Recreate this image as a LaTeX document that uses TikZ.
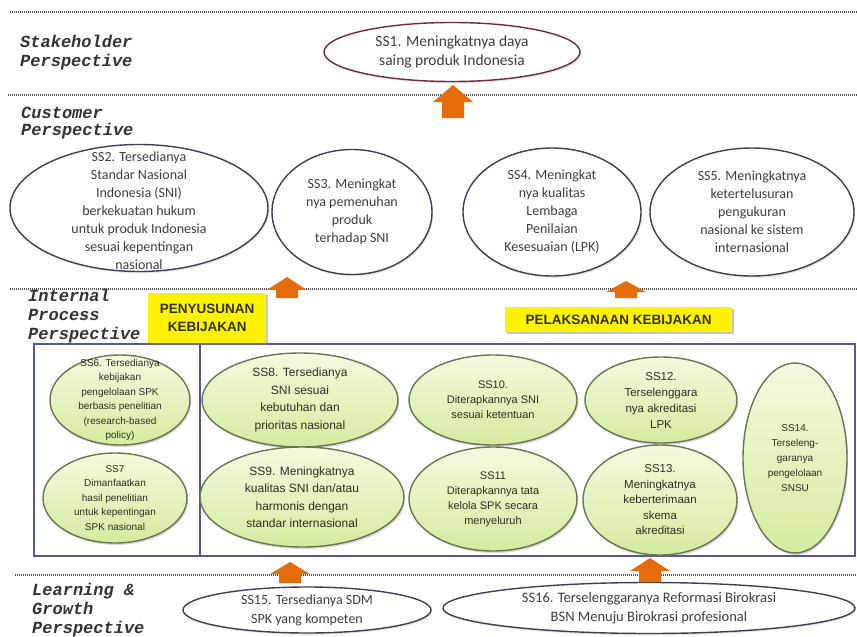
\documentclass[tikz,border=0pt]{standalone}
\usepackage{fontspec}
\setmainfont{Carlito}
\newfontfamily\arialf{Liberation Sans}
\newfontfamily\monof{Liberation Mono}
\usetikzlibrary{shapes.geometric,shadows}

\definecolor{ssborder}{RGB}{62,64,82}
\definecolor{ssoneborder}{RGB}{115,40,70}
\definecolor{grnborder}{RGB}{105,118,80}
\definecolor{grntop}{RGB}{244,250,222}
\definecolor{grnbot}{RGB}{214,234,160}
\definecolor{boxblue}{RGB}{85,85,165}
\definecolor{arrorange}{RGB}{228,108,10}
\definecolor{txtgray}{RGB}{62,62,62}
\definecolor{grntxt}{RGB}{40,50,30}
\definecolor{dotgray}{RGB}{80,80,80}
\definecolor{yboxtxt}{RGB}{50,50,20}

\newcommand\blockup[4]{% x, top, bottom, head height
  \fill[arrorange] (#1-20,#2+#4) -- (#1,#2) -- (#1+20,#2+#4) -- (#1+11,#2+#4)
    -- (#1+11,#3) -- (#1-11,#3) -- (#1-11,#2+#4) -- cycle;}

\begin{document}
\begin{tikzpicture}[x=1pt,y=-1pt,
  divider/.style={draw=dotgray, line width=1.6pt, dash pattern=on 1.1pt off 0.9pt},
  plab/.style={anchor=west, align=left, inner sep=0pt, text=black!80,
    font=\monof\bfseries\itshape\fontsize{17}{19}\selectfont},
  wellipse/.style={ellipse, draw=ssborder, line width=1.4pt, fill=white, inner sep=0pt,
    drop shadow={opacity=0.2, shadow xshift=1.2pt, shadow yshift=-1.8pt}},
  gellipse/.style={ellipse, draw=grnborder, line width=1.4pt, top color=grntop,
    bottom color=grnbot, inner sep=0pt,
    drop shadow={opacity=0.3, shadow xshift=1.2pt, shadow yshift=-2pt}},
  ctext/.style={align=center, inner sep=0pt, text=txtgray,
    font=\fontsize{14}{18}\selectfont},
  gtext/.style={align=center, inner sep=0pt, text=grntxt},
  ybox/.style={fill=yellow, inner sep=0pt, align=center, text=yboxtxt,
    font=\arialf\bfseries\fontsize{13.5}{18}\selectfont,
    drop shadow={opacity=0.45, shadow xshift=2pt, shadow yshift=-2pt}},
  frame/.style={draw=boxblue, line width=2pt}
]
\useasboundingbox (0,0) rectangle (857,637);

% dividers
\draw[divider] (10,12) -- (857,12);
\draw[divider] (8,95) -- (857,95);
\draw[divider] (10,289) -- (857,289);
\draw[divider] (15,575) -- (857,575);

% perspective labels
\node[plab] (lstake) at (20,53) {Stakeholder\\Perspective};
\node[plab, font=\monof\bfseries\itshape\fontsize{17}{17}\selectfont] (lcust) at (21,123) {Customer\\Perspective};
\node[plab] (lint) at (28,316) {Internal\\Process\\Perspective};
\node[plab] (llearn) at (32,610) {Learning \&\\Growth\\Perspective};

% stakeholder
\node[wellipse, draw=ssoneborder, minimum width=256, minimum height=59] (ss1e) at (452,52) {};
\node[ctext, font=\fontsize{15.5}{19}\selectfont] (ss1) at (ss1e) {SS1. Meningkatnya daya\\saing produk Indonesia};

% customer
\node[wellipse, minimum width=258, minimum height=127] (ss2e) at (139,208) {};
\node[ctext] (ss2) at (139,211) {SS2. Tersedianya\\Standar Nasional\\Indonesia (SNI)\\berkekuatan hukum\\untuk produk Indonesia\\sesuai kepentingan\\nasional};
\node[wellipse, minimum width=160, minimum height=125] (ss3e) at (352,212) {};
\node[ctext] (ss3) at (ss3e) {SS3. Meningkat\\nya pemenuhan\\produk\\terhadap SNI};
\node[wellipse, minimum width=178, minimum height=128] (ss4e) at (552,212) {};
\node[ctext] (ss4) at (ss4e) {SS4. Meningkat\\nya kualitas\\Lembaga\\Penilaian\\Kesesuaian (LPK)};
\node[wellipse, minimum width=204, minimum height=128] (ss5e) at (752,212) {};
\node[ctext] (ss5) at (ss5e) {SS5. Meningkatnya\\ketertelusuran\\pengukuran\\nasional ke sistem\\internasional};

% frames
\draw[frame] (34,344) rectangle (855,556);
\draw[frame] (200,344) -- (200,556);

% yellow labels
\node[ybox, minimum width=118, minimum height=50, anchor=north west] (peny) at (148,293) {PENYUSUNAN\\KEBIJAKAN};
\node[ybox, minimum width=227, minimum height=25, anchor=north west] (pelak) at (505,307) {PELAKSANAAN KEBIJAKAN};

% internal process
\node[gellipse, minimum width=140, minimum height=90] (ss6e) at (120,400) {};
\node[gtext, font=\arialf\fontsize{10}{14.5}\selectfont] (ss6) at (ss6e) {SS6. Tersedianya\\kebijakan\\pengelolaan SPK\\berbasis penelitian\\(research-based\\policy)};
\node[gellipse, minimum width=144, minimum height=90] (ss7e) at (115,498) {};
\node[gtext, font=\arialf\fontsize{10}{14.5}\selectfont] (ss7) at (ss7e) {SS7\\Dimanfaatkan\\hasil penelitian\\untuk kepentingan\\SPK nasional};
\node[gellipse, minimum width=196, minimum height=94] (ss8e) at (300,400) {};
\node[gtext, font=\arialf\fontsize{12}{17.5}\selectfont] (ss8) at (ss8e) {SS8. Tersedianya\\SNI sesuai\\kebutuhan dan\\prioritas nasional};
\node[gellipse, minimum width=204, minimum height=100] (ss9e) at (302,497) {};
\node[gtext, font=\arialf\fontsize{12}{17.5}\selectfont] (ss9) at (ss9e) {SS9. Meningkatnya\\kualitas SNI dan/atau\\harmonis dengan\\standar internasional};
\node[gellipse, minimum width=168, minimum height=90] (ss10e) at (493,400) {};
\node[gtext, font=\arialf\fontsize{11}{15}\selectfont] (ss10) at (ss10e) {SS10.\\Diterapkannya SNI\\sesuai ketentuan};
\node[gellipse, minimum width=168, minimum height=104] (ss11e) at (493,499) {};
\node[gtext, font=\arialf\fontsize{11}{15}\selectfont] (ss11) at (ss11e) {SS11\\Diterapkannya tata\\kelola SPK secara\\menyeluruh};
\node[gellipse, minimum width=152, minimum height=86] (ss12e) at (661,400) {};
\node[gtext, font=\arialf\fontsize{11.5}{16}\selectfont] (ss12) at (ss12e) {SS12.\\Terselenggara\\nya akreditasi\\LPK};
\node[gellipse, minimum width=154, minimum height=110] (ss13e) at (660,500) {};
\node[gtext, font=\arialf\fontsize{11.5}{15.5}\selectfont] (ss13) at (ss13e) {SS13.\\Meningkatnya\\keberterimaan\\skema\\akreditasi};
\node[gellipse, minimum width=104, minimum height=190] (ss14e) at (795,458) {};
\node[gtext, font=\arialf\fontsize{10}{15}\selectfont] (ss14) at (ss14e) {SS14.\\Terseleng-\\garanya\\pengelolaan\\SNSU};

% learning & growth
\node[wellipse, minimum width=248, minimum height=46] (ss15e) at (307,610) {};
\node[ctext, font=\fontsize{14}{19}\selectfont] (ss15) at (ss15e) {SS15. Tersedianya SDM\\SPK yang kompeten};
\node[wellipse, minimum width=412, minimum height=51] (ss16e) at (649,608) {};
\node[ctext, font=\fontsize{14.5}{19}\selectfont] (ss16) at (ss16e) {SS16. Terselenggaranya Reformasi Birokrasi\\BSN Menuju Birokrasi profesional};

% orange arrows
\blockup{453}{85}{118}{17}
\blockup{287}{277}{298}{13}
\blockup{626}{281}{298}{11}
\blockup{290}{562}{583}{12}
\blockup{650}{558}{582}{13}
\end{tikzpicture}
\end{document}
